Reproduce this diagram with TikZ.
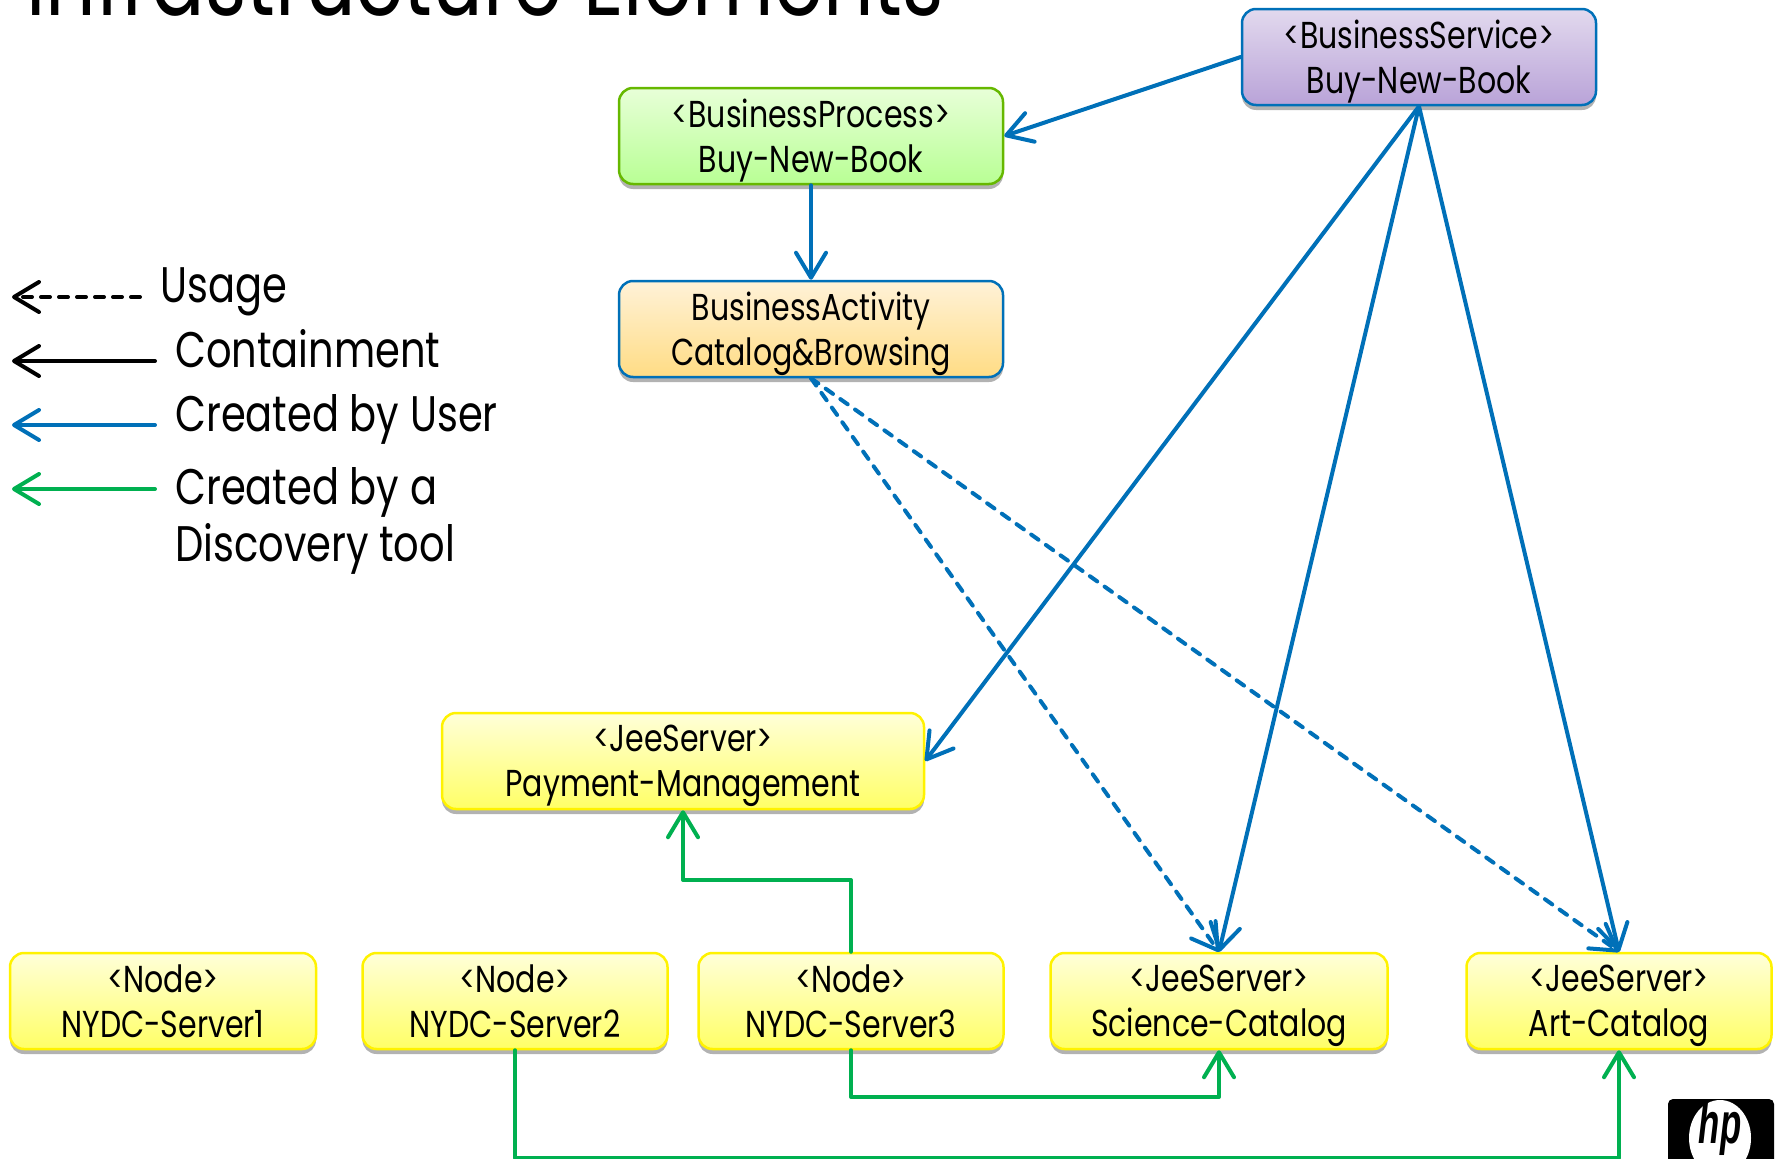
\documentclass[tikz,border=0pt]{standalone}
\usepackage{fontspec}
\setmainfont[FakeStretch=0.80]{Poppins}
\newfontfamily\logofont[FakeStretch=0.60]{Liberation Sans}
\usepackage{tikz}
\usetikzlibrary{arrows.meta,shadows,shapes.geometric}
\definecolor{userblue}{HTML}{0070B8}
\definecolor{toolgreen}{HTML}{00B050}
\definecolor{servicetop}{HTML}{E2D9EE}
\definecolor{servicebot}{HTML}{B9A3D8}
\definecolor{processline}{HTML}{66B800}
\definecolor{processtop}{HTML}{E8FFD8}
\definecolor{processbot}{HTML}{B8FF94}
\definecolor{activitytop}{HTML}{FFF2D8}
\definecolor{activitybot}{HTML}{FFDC84}
\tikzset{
    box/.style={rounded corners=14pt, line width=2.5pt, align=center, inner sep=0pt, minimum height=96pt,
        font=\fontsize{37.5}{45}\selectfont, text depth=0pt,
        drop shadow={shadow xshift=0pt, shadow yshift=-5pt, opacity=0.3, fill=black}},
    yellowbox/.style={box, draw=yellow, top color=yellow!15, bottom color=yellow!60},
    legendtext/.style={anchor=base west, inner sep=0pt, font=\fontsize{50}{57}\selectfont},
    link/.style={line width=4pt, -{Straight Barb[round, length=25pt, width=30pt, line width=4pt]}},
    userlink/.style={link, draw=userblue},
    usagedash/.style={dash pattern=on 9pt off 9pt},
    userdash/.style={userlink, usagedash},
    toollink/.style={link, draw=toolgreen}
}
\begin{document}
\begin{tikzpicture}[line cap=round, line join=round, x=1pt, y=-1pt]
    \useasboundingbox (0, 0) rectangle (1778, 1159);
    \clip (0, 0) rectangle (1778, 1159);
    \node[anchor=base west, inner sep=0pt, font=\fontsize{99}{99}\selectfont] (title) at (26, 16) {Infrastructure Elements};
    \node[box, minimum width=354pt, draw=userblue, top color=servicetop, bottom color=servicebot] (service) at (1419, 57) {<BusinessService>\\Buy-New-Book};
    \node[box, minimum width=384pt, draw=processline, top color=processtop, bottom color=processbot] (process) at (811, 136) {<BusinessProcess>\\Buy-New-Book};
    \node[box, minimum width=384pt, draw=userblue, top color=activitytop, bottom color=activitybot] (activity) at (811, 329) {BusinessActivity\\Catalog\&Browsing};
    \node[yellowbox, minimum width=482pt] (payment) at (683, 761) {<JeeServer>\\Payment-Management};
    \node[yellowbox, minimum width=306pt] (server1) at (163, 1001) {<Node>\\NYDC-Server1};
    \node[yellowbox, minimum width=305pt] (server2) at (515, 1001) {<Node>\\NYDC-Server2};
    \node[yellowbox, minimum width=305pt] (server3) at (851, 1001) {<Node>\\NYDC-Server3};
    \node[yellowbox, minimum width=337pt] (science) at (1219, 1001) {<JeeServer>\\Science-Catalog};
    \node[yellowbox, minimum width=305pt] (art) at (1619, 1001) {<JeeServer>\\Art-Catalog};
    \draw[userlink] (service.west) -- (process.east);
    \draw[userlink] (process.south) -- (activity.north);
    \draw[userlink] (service.south) -- (payment.east);
    \draw[userlink] (service.south) -- (science.north);
    \draw[userlink] (service.south) -- (art.north);
    \draw[userdash] (activity.south) -- (science.north);
    \draw[userdash] (activity.south) -- (art.north);
    \coordinate (upper) at (851, 880);
    \coordinate (middle) at (851, 1097);
    \coordinate (lower) at (515, 1158);
    \draw[toollink] (server3.north) -- (upper) -| (payment.south);
    \draw[toollink] (server3.south) -- (middle) -| (science.south);
    \draw[toollink] (server2.south) -- (lower) -| (art.south);
    \node[legendtext] (usage) at (160, 302) {Usage};
    \node[legendtext] (containment) at (175, 367) {Containment};
    \node[legendtext] (byuser) at (175, 431) {Created by User};
    \node[legendtext] (bytool) at (175, 504) {Created by a};
    \node[legendtext] (discovery) at (175, 561) {Discovery tool};
    \foreach \point/\y/\len/\col/\kind in {usage/297/140/black/usagedash, containment/361/155/black/solid, byuser/425/155/userblue/solid, bytool/489/155/toolgreen/solid}{
        \coordinate (\point-a) at (\len, \y);
        \coordinate (\point-b) at (12, \y);
        \draw[link, draw=\col, \kind] (\point-a) -- (\point-b);
    }
    \node[fill=black, rounded corners=5pt, minimum width=106pt, minimum height=100pt, inner sep=0pt] (logo) at (1721, 1149) {};
    \node[ellipse, fill=white, minimum width=62pt, minimum height=76pt, inner sep=0pt] (seal) at (1720, 1138) {};
    \node[anchor=base, inner sep=0pt, font=\logofont\fontsize{58}{58}\selectfont\bfseries\itshape] (hp) at (1720, 1143) {hp};
\end{tikzpicture}
\end{document}
